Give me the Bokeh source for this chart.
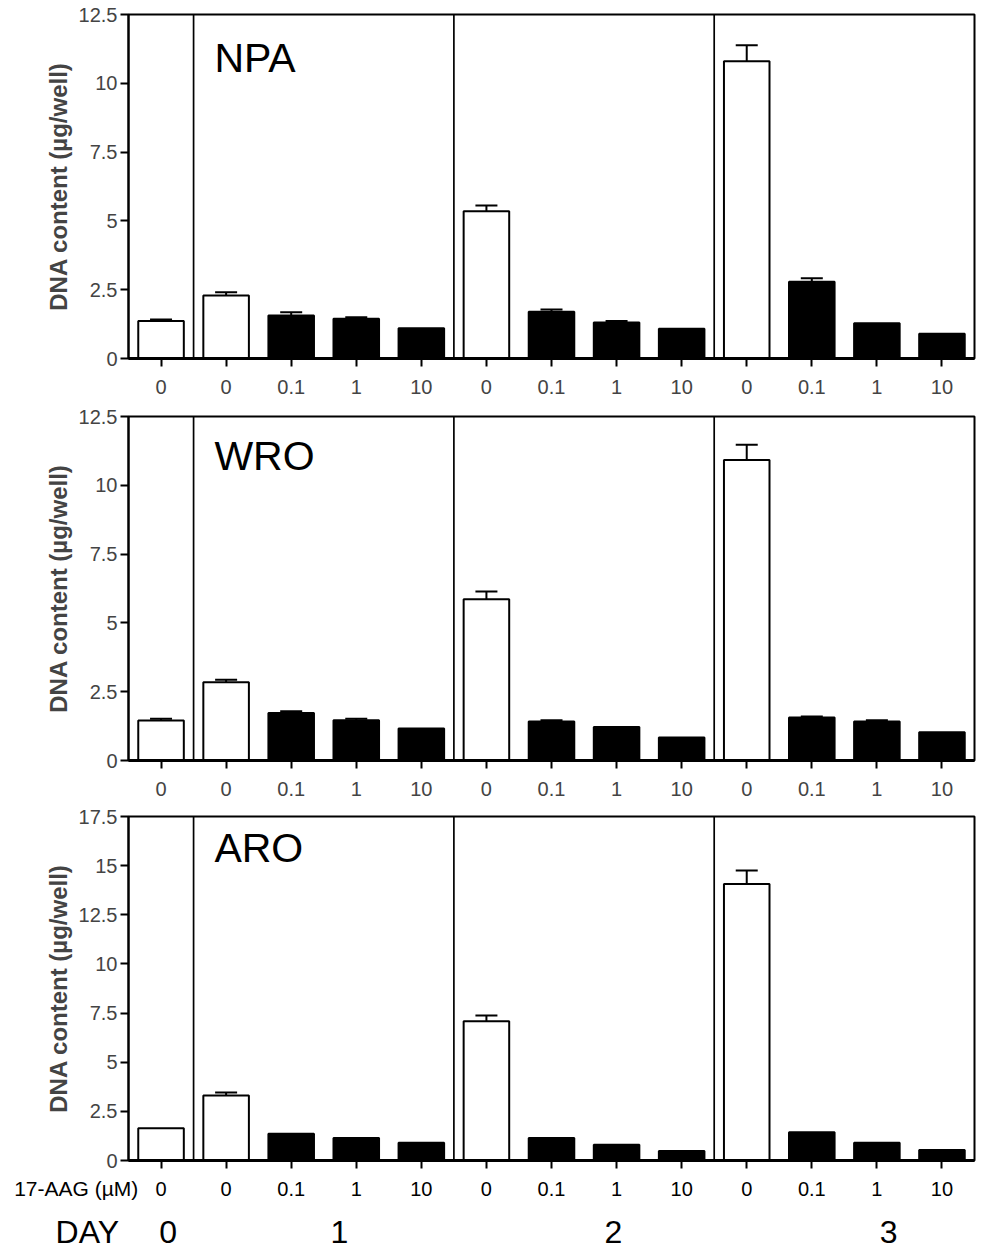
from bokeh.plotting import figure
from bokeh.models import (ColumnDataSource, Span, Label, FixedTicker, NumeralTickFormatter,
                          Range1d, Whisker, TeeHead)
from bokeh.core.properties import value
from bokeh.layouts import column
from bokeh.embed import file_html
from bokeh.resources import INLINE

# ---------------- data ----------------
doses = ["0", "0", "0.1", "1", "10", "0", "0.1", "1", "10", "0", "0.1", "1", "10"]
days = [0, 1, 1, 1, 1, 2, 2, 2, 2, 3, 3, 3, 3]
day_names = ["0", "1", "2", "3"]

cell_lines = ["NPA", "WRO", "ARO"]
npa_mean = [1.36, 2.29, 1.56, 1.44, 1.10, 5.35, 1.70, 1.31, 1.08, 10.80, 2.79, 1.28, 0.90]
npa_err = [0.06, 0.12, 0.12, 0.06, 0.00, 0.21, 0.08, 0.05, 0.00, 0.58, 0.13, 0.00, 0.00]
wro_mean = [1.45, 2.84, 1.73, 1.46, 1.16, 5.86, 1.42, 1.22, 0.84, 10.92, 1.56, 1.42, 1.03]
wro_err = [0.07, 0.09, 0.06, 0.06, 0.00, 0.28, 0.04, 0.00, 0.00, 0.55, 0.04, 0.04, 0.00]
aro_mean = [1.64, 3.31, 1.36, 1.14, 0.90, 7.09, 1.14, 0.80, 0.48, 14.07, 1.44, 0.90, 0.54]
aro_err = [0.00, 0.15, 0.00, 0.00, 0.00, 0.29, 0.00, 0.00, 0.00, 0.68, 0.00, 0.00, 0.00]
y_max = [12.5, 12.5, 17.5]
y_ticks_step = 2.5
dose_axis_title = "17-AAG (µM)"
day_axis_title = "DAY"

# ---------------- layout / style ----------------
FONT = "Liberation Sans"
FIG_W = 976
LEFT = 128
RIGHT = 2
FRAME_H = 344
name_offset_px = [43, 39.5, 31.5]        # panel-name centre below frame top
border_top = [14, 12, 12]
border_bottom = [46, 44, 12]
day_label_x = [0.11, 2.74, 6.95, 11.18]  # label positions (axis units)
BOTTOM_H = 79
ROW1 = 16      # dose label row in bottom strip (px from its top)
ROW2 = 59      # DAY row

means = [npa_mean, wro_mean, aro_mean]
errs = [npa_err, wro_err, aro_err]
n = len(doses)
xs = list(range(n))
fills = ["white" if d == "0" else "black" for d in doses]
separators = [i - 0.5 for i in range(1, n) if days[i] != days[i - 1]]
unit_px = (FIG_W - LEFT - RIGHT) / n

figs = []
for k, name in enumerate(cell_lines):
    ym = y_max[k]
    last = (k == len(cell_lines) - 1)
    p = figure(width=FIG_W, height=border_top[k] + FRAME_H + border_bottom[k],
               output_backend="svg", toolbar_location=None,
               x_range=Range1d(-0.5, n - 0.5), y_range=Range1d(0, ym),
               min_border_left=LEFT, min_border_right=RIGHT,
               min_border_top=border_top[k], min_border_bottom=border_bottom[k])
    p.xgrid.visible = False
    p.ygrid.visible = False
    p.outline_line_color = "black"
    p.outline_line_width = 2
    p.outline_line_alpha = 1
    p.background_fill_color = "white"
    p.border_fill_color = "white"

    src = ColumnDataSource(dict(x=xs, top=means[k], fill=fills))
    p.vbar(x="x", top="top", bottom=0, width=0.7, fill_color="fill", line_color="black",
           line_width=2, source=src)

    ex = [x for x, e in zip(xs, errs[k]) if e > 0]
    lo = [m for m, e in zip(means[k], errs[k]) if e > 0]
    up = [m + e for m, e in zip(means[k], errs[k]) if e > 0]
    esrc = ColumnDataSource(dict(x=ex, lower=lo, upper=up))
    w = Whisker(source=esrc, base="x", lower="lower", upper="upper", dimension="height",
                line_color="black", line_width=2, lower_head=None,
                upper_head=TeeHead(size=22, line_color="black", line_width=2))
    p.add_layout(w)

    for s in separators:
        p.add_layout(Span(location=s, dimension="height", line_color="black", line_width=1.7))

    # y axis
    yticks = [i * y_ticks_step for i in range(int(round(ym / y_ticks_step)) + 1)]
    p.yaxis.ticker = FixedTicker(ticks=yticks)
    p.yaxis.formatter = NumeralTickFormatter(format="0.[0]")
    p.yaxis.minor_tick_line_color = None
    p.yaxis.major_tick_in = 0
    p.yaxis.major_tick_out = 8
    p.yaxis.major_tick_line_width = 2
    p.yaxis.axis_line_width = 2
    p.yaxis.major_label_text_font = FONT
    p.yaxis.major_label_text_font_size = "20px"
    p.yaxis.major_label_standoff = 3
    p.yaxis.axis_label = "DNA content (µg/well)"
    p.yaxis.axis_label_text_font = FONT
    p.yaxis.axis_label_text_font_style = "bold"
    p.yaxis.axis_label_text_font_size = "24px"
    p.yaxis.axis_label_standoff = 4

    # x axis
    p.xaxis.ticker = FixedTicker(ticks=xs)
    p.xaxis.minor_tick_line_color = None
    p.xaxis.major_tick_in = 0
    p.xaxis.major_tick_out = 8
    p.xaxis.major_tick_line_width = 2
    p.xaxis.axis_line_width = 3
    p.xaxis.major_label_text_font = FONT
    if last:
        # dose labels of the bottom panel are drawn in the strip below (with the 17-AAG title)
        p.xaxis.major_label_text_color = None
        p.xaxis.major_label_text_font_size = "1px"
        p.xaxis.major_label_standoff = 0
    else:
        p.xaxis.major_label_overrides = {i: doses[i] for i in xs}
        p.xaxis.major_label_text_font_size = "20px"
        p.xaxis.major_label_standoff = 13

    p.add_layout(Label(x=0.82, y=ym * (1 - name_offset_px[k] / FRAME_H), text=name,
                       text_font=FONT, text_font_size="41px", text_color="black",
                       text_baseline="middle"))
    figs.append(p)

# bottom strip for panel 3: dose labels, "17-AAG (µM)" and DAY row
x0 = -0.5 - LEFT / unit_px
x1 = n - 0.5 + RIGHT / unit_px
pb = figure(width=FIG_W, height=BOTTOM_H, output_backend="svg", toolbar_location=None,
            x_range=Range1d(x0, x1), y_range=Range1d(BOTTOM_H, 0),
            min_border=0, min_border_left=0, min_border_right=0,
            min_border_top=0, min_border_bottom=0)
pb.frame_align = False
pb.axis.visible = False
pb.grid.visible = False
pb.outline_line_color = None
pb.background_fill_color = "white"
pb.border_fill_color = "white"

pb.text(x=xs, y=[ROW1] * n, text=doses, text_font=value(FONT), text_font_size="20px",
        text_align="center", text_baseline="middle", text_color="black")
pb.text(x=[-0.35], y=[ROW1], text=[dose_axis_title], text_font=value(FONT),
        text_font_size="21px", text_align="right", text_baseline="middle", text_color="black")
pb.text(x=[-1.62], y=[ROW2], text=[day_axis_title], text_font=value(FONT),
        text_font_size="32px", text_align="left", text_baseline="middle", text_color="black")
pb.text(x=day_label_x, y=[ROW2] * len(day_names), text=day_names, text_font=value(FONT),
        text_font_size="32px", text_align="center", text_baseline="middle", text_color="black")
figs.append(pb)

layout = column(*figs, spacing=0)
open("out.html", "w").write(file_html(layout, INLINE))
